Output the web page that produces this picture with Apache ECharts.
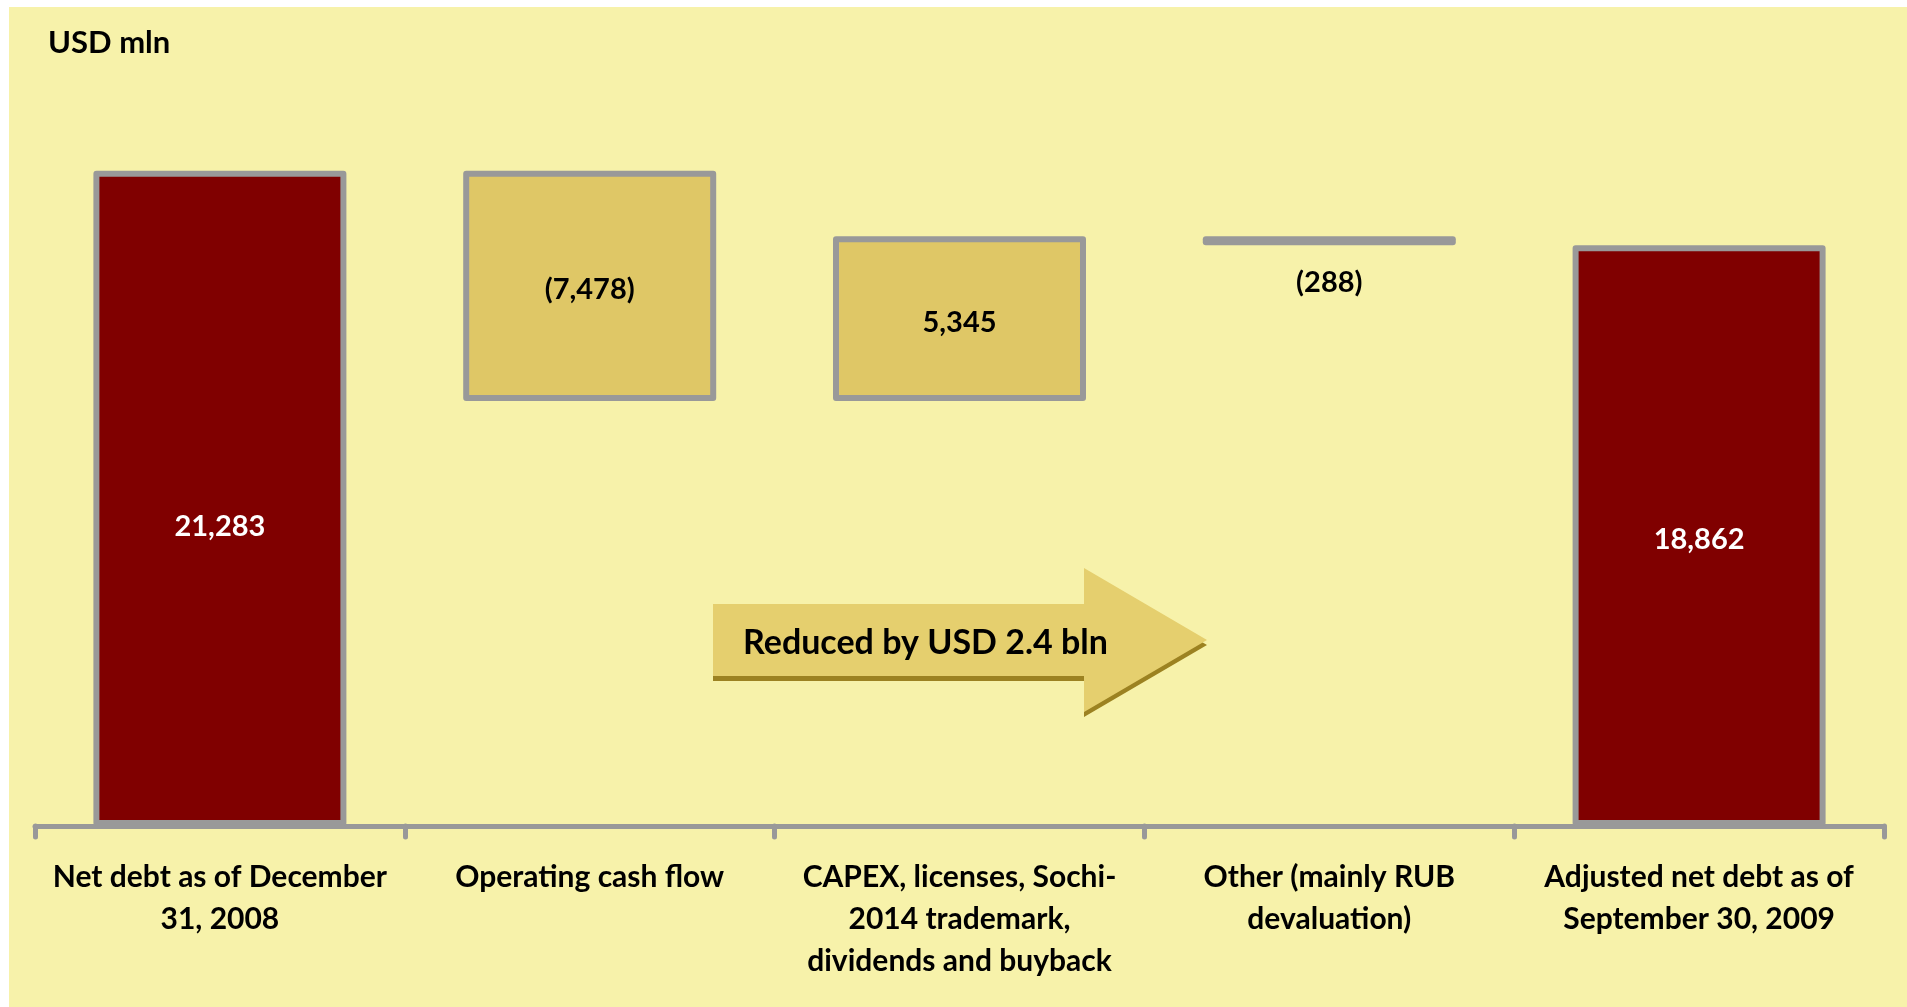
<!DOCTYPE html>
<html>
<head>
<meta charset="utf-8">
<script src="https://cdn.jsdelivr.net/npm/echarts@6/dist/echarts.min.js"></script>
<style>
  html, body { margin: 0; padding: 0; background: #ffffff; }
  #chart { width: 1907px; height: 1007px; }
</style>
</head>
<body>
<div id="chart"></div>
<script>
// values, USD mln
const categories = [
  'Net debt as of December\n31, 2008',
  'Operating cash flow',
  'CAPEX, licenses, Sochi-\n2014 trademark,\ndividends and buyback',
  'Other (mainly RUB\ndevaluation)',
  'Adjusted net debt as of\nSeptember 30, 2009'
]
const kinds = ['total', 'change', 'change', 'change', 'total']
const changes = [21283, -7478, 5345, -288, 18862]
const valueLabels = ['21,283', '(7,478)', '5,345', '(288)', '18,862']

const RED = '#800000'
const GOLD = '#DFC766'
const GRAY = '#999999'
const FONT = 'Lato'

// waterfall: invisible base + visible bar
const baseData = []
const barData = []
let running = 0
changes.forEach((v, i) => {
  if (kinds[i] === 'total') {
    baseData.push(0)
    barData.push(v)
    running = v
  } else {
    const next = running + v
    baseData.push(Math.min(running, next))
    barData.push(Math.abs(v))
    running = next
  }
})

const chart = echarts.init(document.getElementById('chart'))

// arrow outline, shifted copy used as the shadow
const arrowPts = [[713, 604], [1084, 604], [1084, 568], [1207, 640], [1084, 712], [1084, 676], [713, 676]]

chart.setOption({
  backgroundColor: '#ffffff',
  animation: false,
  grid: { left: 35, right: 23, top: 87, bottom: 181 },
  xAxis: {
    type: 'category',
    data: categories,
    axisLine: { lineStyle: { color: GRAY, width: 5, cap: 'round' } },
    axisTick: { show: true, length: 11, lineStyle: { color: GRAY, width: 5, cap: 'round' } },
    axisLabel: {
      interval: 0,
      margin: 30,
      color: '#000',
      fontFamily: FONT,
      fontWeight: 'bold',
      fontSize: 30,
      lineHeight: 42
    }
  },
  yAxis: {
    type: 'value',
    min: 0,
    max: 24000,
    show: false,
    splitLine: { show: false }
  },
  graphic: [
    {
      type: 'rect', z: -10, silent: true,
      shape: { x: 9, y: 7, width: 1898, height: 1000 },
      style: { fill: '#F7F2AA' }
    },
    {
      type: 'text', left: 48, top: 27,
      style: { text: 'USD mln', fill: '#000', font: 'bold 31px ' + FONT }
    },
    {
      type: 'polygon', z: 1, silent: true,
      shape: { points: arrowPts.map(p => [p[0], p[1] + 5]) },
      style: { fill: '#9C8221' }
    },
    {
      type: 'polygon', z: 2, silent: true,
      shape: { points: arrowPts },
      style: { fill: '#E5CF6E' }
    },
    {
      type: 'text', z: 3,
      style: {
        x: 743, y: 643,
        text: 'Reduced by USD 2.4 bln',
        fill: '#000',
        font: 'bold 34px ' + FONT,
        verticalAlign: 'middle'
      }
    }
  ],
  series: [
    {
      type: 'bar',
      stack: 'wf',
      barWidth: 253,
      silent: true,
      itemStyle: { color: 'transparent' },
      data: baseData
    },
    {
      type: 'bar',
      stack: 'wf',
      barWidth: 253,
      data: barData.map((v, i) => {
        const isTotal = kinds[i] === 'total'
        const thin = !isTotal && v < 1000
        return {
          value: v,
          itemStyle: {
            color: isTotal ? RED : GOLD,
            borderColor: GRAY,
            borderWidth: 6,
            borderJoin: 'round'
          },
          label: {
            show: true,
            formatter: valueLabels[i],
            position: thin ? 'bottom' : 'inside',
            distance: 23,
            offset: i === 0 ? [0, 28] : [0, thin ? 0 : 4],
            color: isTotal ? '#fff' : '#000',
            fontFamily: FONT,
            fontWeight: 'bold',
            fontSize: 29
          }
        }
      })
    }
  ]
})
</script>
</body>
</html>
